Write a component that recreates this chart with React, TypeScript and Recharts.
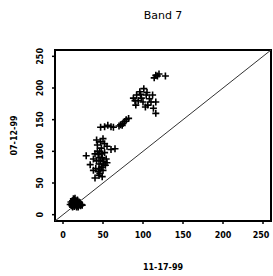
import { ScatterChart, Scatter, XAxis, YAxis, ReferenceLine, ReferenceArea } from "recharts"

// Band 7 pixel values, 11-17-99 (x) against 07-12-99 (y)
const lowCluster = [
  { x: 10, y: 20 }, { x: 12, y: 22 }, { x: 14, y: 24 }, { x: 11, y: 17 }, { x: 13, y: 15 },
  { x: 15, y: 18 }, { x: 17, y: 20 }, { x: 16, y: 16 }, { x: 18, y: 14 }, { x: 12, y: 12 },
  { x: 14, y: 13 }, { x: 19, y: 17 }, { x: 20, y: 15 }, { x: 22, y: 14 }, { x: 23, y: 16 },
  { x: 16, y: 22 }, { x: 18, y: 23 }, { x: 13, y: 19 }, { x: 15, y: 14 }, { x: 17, y: 12 },
  { x: 11, y: 14 }, { x: 9, y: 16 }, { x: 21, y: 18 }, { x: 24, y: 15 }, { x: 15, y: 26 },
  { x: 13, y: 25 }, { x: 19, y: 12 }, { x: 16, y: 19 }, { x: 14, y: 17 }, { x: 20, y: 20 },
]

const midCluster = [
  { x: 29, y: 93 }, { x: 40, y: 58 }, { x: 45, y: 62 }, { x: 34, y: 79 }, { x: 38, y: 88 },
  { x: 42, y: 85 }, { x: 44, y: 95 }, { x: 46, y: 100 }, { x: 48, y: 105 }, { x: 43, y: 110 },
  { x: 50, y: 120 }, { x: 42, y: 118 }, { x: 47, y: 115 }, { x: 55, y: 108 }, { x: 60, y: 103 },
  { x: 65, y: 104 }, { x: 52, y: 98 }, { x: 49, y: 90 }, { x: 45, y: 80 }, { x: 48, y: 75 },
  { x: 50, y: 70 }, { x: 53, y: 78 }, { x: 46, y: 72 }, { x: 41, y: 73 }, { x: 44, y: 68 },
  { x: 51, y: 84 }, { x: 54, y: 88 }, { x: 47, y: 86 }, { x: 43, y: 100 }, { x: 40, y: 96 },
  { x: 52, y: 112 }, { x: 48, y: 96 }, { x: 45, y: 90 }, { x: 50, y: 80 }, { x: 55, y: 82 },
  { x: 38, y: 70 }, { x: 46, y: 65 }, { x: 49, y: 60 },
]

const streak = [
  { x: 47, y: 138 }, { x: 52, y: 139 }, { x: 56, y: 141 }, { x: 60, y: 139 }, { x: 63, y: 138 },
  { x: 72, y: 142 }, { x: 75, y: 144 }, { x: 77, y: 147 }, { x: 79, y: 150 }, { x: 82, y: 152 },
  { x: 74, y: 141 }, { x: 70, y: 140 },
]

const highCluster = [
  { x: 88, y: 184 }, { x: 91, y: 173 }, { x: 92, y: 189 }, { x: 96, y: 194 }, { x: 98, y: 184 },
  { x: 101, y: 199 }, { x: 104, y: 189 }, { x: 106, y: 173 }, { x: 110, y: 178 }, { x: 112, y: 189 },
  { x: 116, y: 178 }, { x: 116, y: 160 }, { x: 94, y: 180 }, { x: 100, y: 178 }, { x: 103, y: 170 },
  { x: 108, y: 183 }, { x: 113, y: 168 }, { x: 97, y: 190 }, { x: 90, y: 180 }, { x: 105, y: 193 },
]

const topCluster = [
  { x: 114, y: 216 }, { x: 116, y: 220 }, { x: 118, y: 219 }, { x: 120, y: 222 }, { x: 128, y: 219 },
]

const ticks = [0, 50, 100, 150, 200, 250]
const domain = [-10, 260]

const points = [...lowCluster, ...midCluster, ...streak, ...highCluster, ...topCluster]

const font = "DejaVu Sans"

const Plus = (props: any) => {
  const { cx, cy } = props
  if (cx == null || cy == null) return null
  return (
    <path
      d={`M${cx - 3.5},${cy}H${cx + 3.5}M${cx},${cy - 3.5}V${cy + 3.5}`}
      stroke="#000"
      strokeWidth={1.6}
      fill="none"
    />
  )
}

const XTick = (props: any) => {
  const { x, y, payload } = props
  return (
    <text x={x} y={y + 12} textAnchor="middle" fontSize={8} fontWeight="bold" fontFamily={font} fill="#000">
      {payload.value}
    </text>
  )
}

const YTick = (props: any) => {
  const { x, y, payload } = props
  const tx = x - 7
  return (
    <text
      x={tx}
      y={y}
      transform={`rotate(-90 ${tx} ${y})`}
      textAnchor="middle"
      fontSize={8}
      fontWeight="bold"
      fontFamily={font}
      fill="#000"
    >
      {payload.value}
    </text>
  )
}

const XLabel = (props: any) => {
  const vb = props.viewBox || {}
  return (
    <text
      x={vb.x + vb.width / 2}
      y={270}
      textAnchor="middle"
      fontSize={8}
      fontWeight="bold"
      fontFamily={font}
      fill="#000"
      style={{ fontFamily: font }}
    >
      11-17-99
    </text>
  )
}

const YLabel = (props: any) => {
  const vb = props.viewBox || {}
  const cy = vb.y + vb.height / 2
  return (
    <text
      x={17}
      y={cy}
      transform={`rotate(-90 17 ${cy})`}
      textAnchor="middle"
      fontSize={8}
      fontWeight="bold"
      fontFamily={font}
      fill="#000"
      style={{ fontFamily: font }}
    >
      07-12-99
    </text>
  )
}

export default function App() {
  return (
    <div
      style={{
        position: "relative",
        width: 273,
        height: 276,
        background: "#fff",
        fontFamily: font,
      }}
    >
      <style>{`body{margin:0}`}</style>
      <div
        style={{
          position: "absolute",
          top: 9,
          left: 55,
          width: 216,
          textAlign: "center",
          fontSize: 11,
          color: "#000",
        }}
      >
        Band 7
      </div>
      <ScatterChart width={273} height={276} margin={{ top: 50, right: 2, bottom: 0, left: 0 }}>
        <XAxis
          type="number"
          dataKey="x"
          domain={domain}
          ticks={ticks}
          allowDataOverflow
          axisLine={false}
          tickLine={{ stroke: "#000", strokeWidth: 1.5 }}
          tickSize={3}
          height={55}
          tick={<XTick />}
          label={{ content: XLabel }}
        />
        <YAxis
          type="number"
          dataKey="y"
          domain={domain}
          ticks={ticks}
          allowDataOverflow
          axisLine={false}
          tickLine={{ stroke: "#000", strokeWidth: 1.5 }}
          tickSize={3}
          width={55}
          tick={<YTick />}
          label={{ content: YLabel }}
        />
        <ReferenceArea
          x1={-10}
          x2={260}
          y1={-10}
          y2={260}
          fill="none"
          fillOpacity={0}
          stroke="#000"
          strokeWidth={2}
        />
        <ReferenceLine
          segment={[{ x: -10, y: -10 }, { x: 260, y: 260 }]}
          stroke="#333"
          strokeWidth={1}
        />
        <Scatter data={points} shape={<Plus />} isAnimationActive={false} />
      </ScatterChart>
    </div>
  )
}
